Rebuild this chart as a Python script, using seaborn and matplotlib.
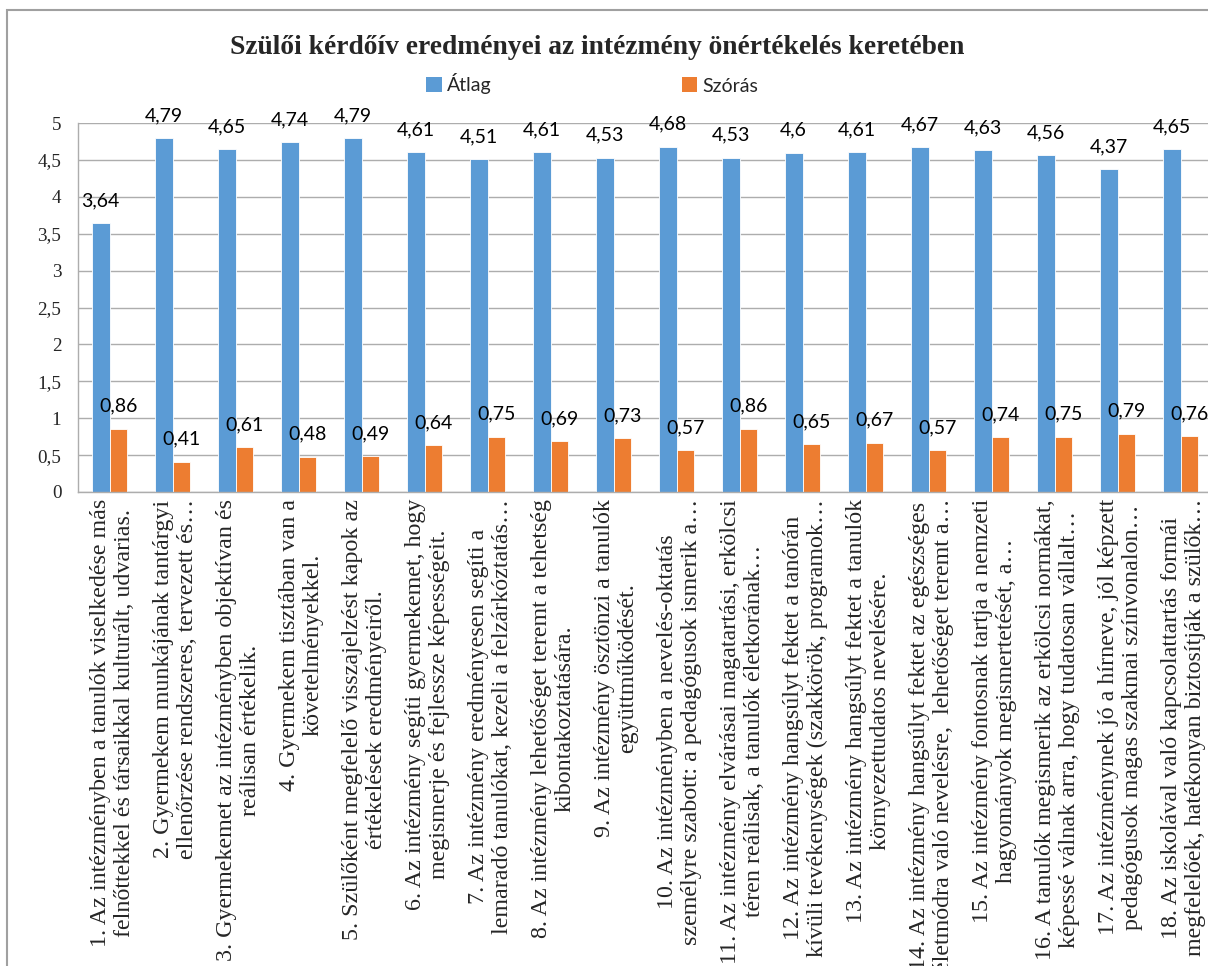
import matplotlib
matplotlib.use("Agg")
import matplotlib.pyplot as plt
import matplotlib.transforms as mtransforms
import seaborn as sns
import pandas as pd
from matplotlib.patches import Rectangle, Patch

categories = [
    "1. Az intézményben a tanulók viselkedése más\nfelnőttekkel és társaikkal kulturált, udvarias.",
    "2. Gyermekem munkájának tantárgyi\nellenőrzése rendszeres, tervezett és…",
    "3. Gyermekemet az intézményben objektívan és\nreálisan értékelik.",
    "4. Gyermekem tisztában van a\nkövetelményekkel.",
    "5. Szülőként megfelelő visszajelzést kapok az\nértékelések eredményeiről.",
    "6. Az intézmény segíti gyermekemet, hogy\nmegismerje és fejlessze képességeit.",
    "7. Az intézmény eredményesen segíti a\nlemaradó tanulókat, kezeli a felzárkóztatás…",
    "8. Az intézmény lehetőséget teremt a tehetség\nkibontakoztatására.",
    "9. Az intézmény ösztönzi a tanulók\negyüttműködését.",
    "10. Az intézményben a nevelés-oktatás\nszemélyre szabott: a pedagógusok ismerik a…",
    "11. Az intézmény elvárásai magatartási, erkölcsi\ntéren reálisak, a tanulók életkorának…",
    "12. Az intézmény hangsúlyt fektet a tanórán\nkívüli tevékenységek (szakkörök, programok…",
    "13. Az intézmény hangsúlyt fektet a tanulók\nkörnyezettudatos nevelésére.",
    "14. Az intézmény hangsúlyt fektet az egészséges\néletmódra való nevelésre,  lehetőséget teremt a…",
    "15. Az intézmény fontosnak tartja a nemzeti\nhagyományok megismertetését, a…",
    "16. A tanulók megismerik az erkölcsi normákat,\nképessé válnak arra, hogy tudatosan vállalt…",
    "17. Az intézménynek jó a hírneve, jól képzett\npedagógusok magas szakmai színvonalon…",
    "18. Az iskolával való kapcsolattartás formái\nmegfelelőek, hatékonyan biztosítják a szülők…",
]
atlag = [3.64, 4.79, 4.65, 4.74, 4.79, 4.61, 4.51, 4.61, 4.53, 4.68, 4.53, 4.6, 4.61, 4.67, 4.63, 4.56, 4.37, 4.65]
szoras = [0.86, 0.41, 0.61, 0.48, 0.49, 0.64, 0.75, 0.69, 0.73, 0.57, 0.86, 0.65, 0.67, 0.57, 0.74, 0.75, 0.79, 0.76]
series_names = ["Átlag", "Szórás"]
yticks = [0, 0.5, 1, 1.5, 2, 2.5, 3, 3.5, 4, 4.5, 5]

BLUE = "#5B9BD5"
ORANGE = "#ED7D31"
GRID = "#ADADAD"

sns.set_style("white")
plt.rcParams['font.family'] = ['Liberation Serif', 'DejaVu Sans']

df = pd.DataFrame({
    "cat": categories * 2,
    "series": [series_names[0]] * len(categories) + [series_names[1]] * len(categories),
    "value": atlag + szoras,
})

W, H = 1208, 966
fig = plt.figure(figsize=(W / 100, H / 100), dpi=100)

# outer chart frame (cropped on right/bottom)
fig.patches.append(Rectangle((7 / W, -0.1), 1.2, 1 - 10 / H + 0.1, transform=fig.transFigure,
                             fill=False, edgecolor="#A0A0A0", linewidth=1.5))

ax = fig.add_axes([78 / W, (H - 492) / H, 1134 / W, 369 / H])
sns.barplot(data=df, x="cat", y="value", hue="series", order=categories,
            hue_order=series_names, palette=[BLUE, ORANGE], width=0.56, saturation=1,
            edgecolor="white", linewidth=0.6, ax=ax, legend=False)

ax.set_xlim(-0.5, len(categories) - 0.5)
ax.set_ylim(0, 5)
ax.set_yticks(yticks)
ax.set_yticklabels([f"{v:g}".replace(".", ",") for v in yticks], fontsize=13.8,
                   family=['Liberation Serif'])
ax.yaxis.grid(True, color=GRID, linewidth=1.0)
ax.set_axisbelow(True)
ax.set_xlabel("")
ax.set_ylabel("")
for s in ["top", "right"]:
    ax.spines[s].set_visible(False)
for s in ["left", "bottom"]:
    ax.spines[s].set_color(GRID)
    ax.spines[s].set_linewidth(1.0)
ax.tick_params(axis="y", length=0, pad=12)
ax.tick_params(axis="x", length=0, pad=5)
ax.set_xticks(range(len(categories)))
ax.set_xticklabels(categories, rotation=90, ha="center", va="top",
                   multialignment="center", fontsize=17.3, linespacing=1.13,
                   family=['Liberation Serif'])
shift = mtransforms.ScaledTranslation(3 / 100, 0, fig.dpi_scale_trans)
for lbl in ax.get_xticklabels():
    lbl.set_transform(lbl.get_transform() + shift)

for cont, vals in zip(ax.containers, [atlag, szoras]):
    ax.bar_label(cont, labels=[f"{v:g}".replace(".", ",") for v in vals], padding=10,
                 fontsize=14, family=['Lato', 'DejaVu Sans'], color="#000000")

fig.text(597 / W, 1 - 47 / H, "Szülői kérdőív eredményei az intézmény önértékelés keretében",
         ha="center", va="center", fontsize=19.8, fontweight="bold",
         family=['Liberation Serif'])

handles = [Patch(facecolor=BLUE, edgecolor="none"), Patch(facecolor=ORANGE, edgecolor="none")]
fig.legend(handles, series_names, loc="center", bbox_to_anchor=(592 / W, 1 - 84 / H),
           ncol=2, frameon=False, handlelength=0.8, handleheight=0.8, handletextpad=0.25,
           columnspacing=9.8, prop={'family': ['Lato', 'DejaVu Sans'], 'size': 14})

fig.savefig("out.png", dpi=100)
